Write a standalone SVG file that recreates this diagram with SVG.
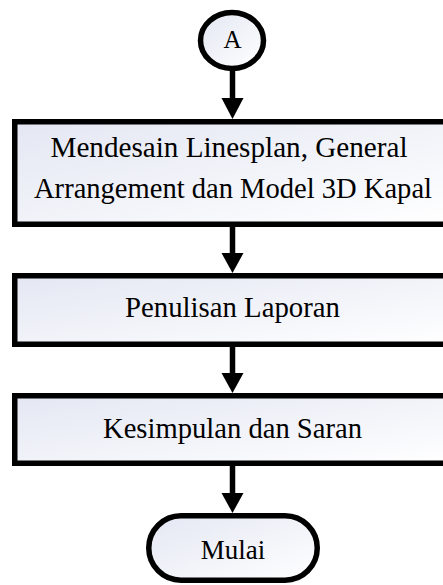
<svg xmlns="http://www.w3.org/2000/svg" width="443" height="585" viewBox="0 0 443 585">
<defs>
<linearGradient id="fill" x1="0" y1="0" x2="1" y2="1">
<stop offset="0" stop-color="#e4e7f3"/>
<stop offset="1" stop-color="#ffffff"/>
</linearGradient>
<style>
.shape{fill:url(#fill);stroke:#000;stroke-width:5.5}
.lbl{font-family:"Liberation Serif","Times New Roman",serif;fill:#000;text-anchor:middle}
.big{font-size:30px}
.small{font-size:27px}
.tiny{font-size:25px}
.conn{stroke:#000;stroke-width:5.5;fill:none}
.head{fill:#000}
</style>
</defs>
<rect width="443" height="585" fill="#fff"/>
<g id="connectors">
<line class="conn" x1="232.5" y1="70" x2="232.5" y2="100"/>
<polygon class="head" points="221.5,98 243.5,98 232.5,119"/>
<line class="conn" x1="232.5" y1="226" x2="232.5" y2="255"/>
<polygon class="head" points="221.5,253 243.5,253 232.5,273"/>
<line class="conn" x1="232.5" y1="346" x2="232.5" y2="375"/>
<polygon class="head" points="221.5,373 243.5,373 232.5,393"/>
<line class="conn" x1="232.5" y1="465" x2="232.5" y2="495"/>
<polygon class="head" points="221.5,493 243.5,493 232.5,513"/>
</g>
<g id="node-a">
<ellipse class="shape" cx="232" cy="40.5" rx="31.5" ry="28"/>
<text class="lbl tiny" x="232.5" y="47.5">A</text>
</g>
<g id="node-desain">
<rect class="shape" x="14.75" y="121.75" width="440" height="102.5"/>
<text class="lbl big" x="229" y="157" textLength="357" lengthAdjust="spacingAndGlyphs">Mendesain Linesplan, General</text>
<text class="lbl big" x="233" y="198" textLength="398" lengthAdjust="spacingAndGlyphs">Arrangement dan Model 3D Kapal</text>
</g>
<g id="node-laporan">
<rect class="shape" x="14.75" y="275.75" width="440" height="68.5"/>
<text class="lbl big" x="232.5" y="317" textLength="215" lengthAdjust="spacingAndGlyphs">Penulisan Laporan</text>
</g>
<g id="node-kesimpulan">
<rect class="shape" x="14.75" y="395.75" width="440" height="67.5"/>
<text class="lbl big" x="232.5" y="438" textLength="259" lengthAdjust="spacingAndGlyphs">Kesimpulan dan Saran</text>
</g>
<g id="node-mulai">
<rect class="shape" x="148.75" y="515.75" width="168.5" height="64.5" rx="32.25" ry="32.25"/>
<text class="lbl small" x="233" y="559">Mulai</text>
</g>
</svg>
